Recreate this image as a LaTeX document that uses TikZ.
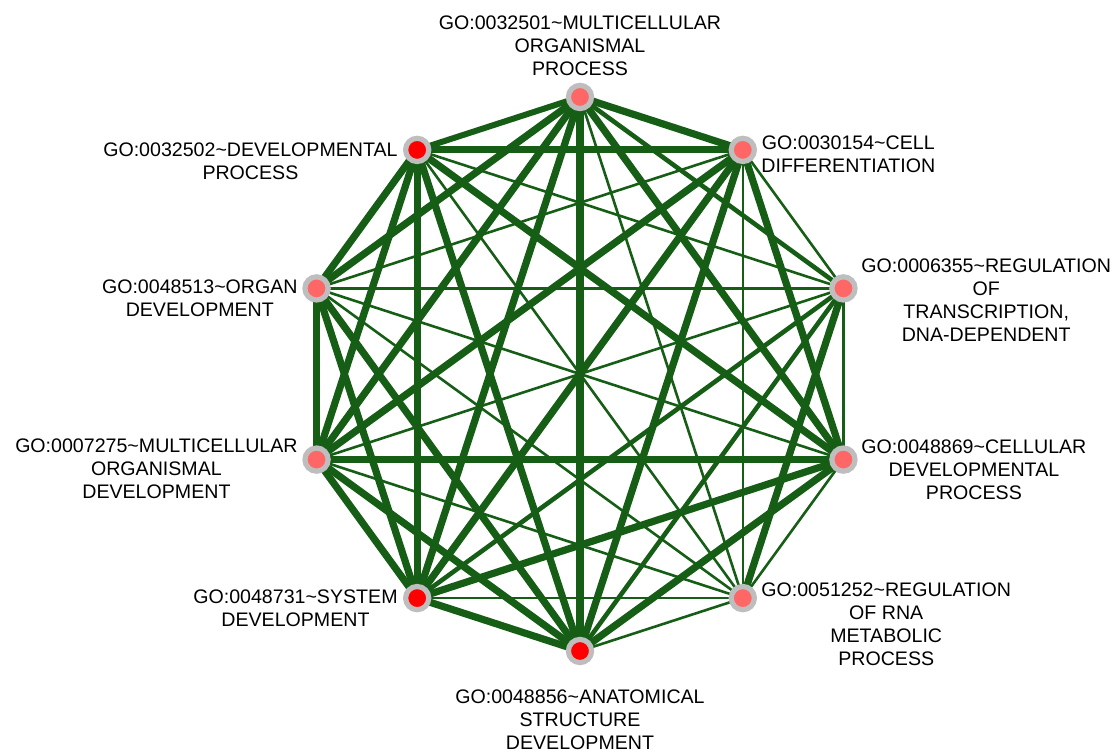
\documentclass[tikz,border=0pt]{standalone}
\usepackage{fontspec}
\setmainfont{Liberation Sans}
\usetikzlibrary{backgrounds}
\definecolor{edgegreen}{RGB}{22,94,22}
\definecolor{ringgray}{RGB}{190,190,190}
\definecolor{palered}{RGB}{255,102,102}
\definecolor{fullred}{RGB}{255,0,0}

\begin{document}
\begin{tikzpicture}[x=0.5pt,y=0.5pt,
    term/.style={circle, draw=ringgray, line width=2.6pt, minimum size=11.6pt, inner sep=0pt},
    lbl/.style={inner sep=0pt, align=center, font=\fontsize{9.8}{11.5}\selectfont},
    e1/.style={draw=edgegreen, line width=1.3pt},
    e2/.style={draw=edgegreen, line width=2.3pt},
    e3/.style={draw=edgegreen, line width=3.6pt}]
    \useasboundingbox (-580,-380) rectangle (538,374);

    % GO terms on a ring
    \node[term, fill=palered] (a) at (90:277) {};
    \node[term, fill=palered] (b) at (54:277) {};
    \node[term, fill=palered] (c) at (18:277) {};
    \node[term, fill=palered] (d) at (-18:277) {};
    \node[term, fill=palered] (e) at (-54:277) {};
    \node[term, fill=fullred] (f) at (-90:277) {};
    \node[term, fill=fullred] (g) at (-126:277) {};
    \node[term, fill=palered] (h) at (-162:277) {};
    \node[term, fill=palered] (i) at (162:277) {};
    \node[term, fill=fullred] (j) at (126:277) {};

    \node[lbl] (la) at (0,328) {GO:0032501\textasciitilde MULTICELLULAR\\ORGANISMAL\\PROCESS};
    \node[lbl, anchor=west] (lb) at (181,220) {GO:0030154\textasciitilde CELL\\DIFFERENTIATION};
    \node[lbl, anchor=west] (lc) at (281,74) {GO:0006355\textasciitilde REGULATION\\OF\\TRANSCRIPTION,\\DNA-DEPENDENT};
    \node[lbl, anchor=west] (ld) at (281,-96) {GO:0048869\textasciitilde CELLULAR\\DEVELOPMENTAL\\PROCESS};
    \node[lbl, anchor=west] (le) at (181,-250) {GO:0051252\textasciitilde REGULATION\\OF RNA\\METABOLIC\\PROCESS};
    \node[lbl] (lf) at (0,-346) {GO:0048856\textasciitilde ANATOMICAL\\STRUCTURE\\DEVELOPMENT};
    \node[lbl, anchor=east] (lg) at (-182,-234) {GO:0048731\textasciitilde SYSTEM\\DEVELOPMENT};
    \node[lbl, anchor=east] (lh) at (-282,-95) {GO:0007275\textasciitilde MULTICELLULAR\\ORGANISMAL\\DEVELOPMENT};
    \node[lbl, anchor=east] (li) at (-282,76) {GO:0048513\textasciitilde ORGAN\\DEVELOPMENT};
    \node[lbl, anchor=east] (lj) at (-182,213) {GO:0032502\textasciitilde DEVELOPMENTAL\\PROCESS};

    \begin{scope}[on background layer]
        % neighbours on the ring
        \draw[e3] (a.center) -- (b.center);
        \draw[e1] (b.center) -- (c.center);
        \draw[e1] (c.center) -- (d.center);
        \draw[e1] (d.center) -- (e.center);
        \draw[e1] (e.center) -- (f.center);
        \draw[e3] (f.center) -- (g.center);
        \draw[e3] (g.center) -- (h.center);
        \draw[e3] (h.center) -- (i.center);
        \draw[e3] (i.center) -- (j.center);
        \draw[e3, line width=3pt] (j.center) -- (a.center);
        % one apart
        \draw[e2] (a.center) -- (c.center);
        \draw[e3] (b.center) -- (d.center);
        \draw[e3] (c.center) -- (e.center);
        \draw[e3] (d.center) -- (f.center);
        \draw[e1] (e.center) -- (g.center);
        \draw[e3] (f.center) -- (h.center);
        \draw[e3] (g.center) -- (i.center);
        \draw[e3] (h.center) -- (j.center);
        \draw[e3] (i.center) -- (a.center);
        \draw[e3] (j.center) -- (b.center);
        % two apart
        \draw[e3] (a.center) -- (d.center);
        \draw[e1] (b.center) -- (e.center);
        \draw[e2] (c.center) -- (f.center);
        \draw[e3] (d.center) -- (g.center);
        \draw[e1] (e.center) -- (h.center);
        \draw[e3] (f.center) -- (i.center);
        \draw[e3] (g.center) -- (j.center);
        \draw[e3] (h.center) -- (a.center);
        \draw[e1] (i.center) -- (b.center);
        \draw[e1] (j.center) -- (c.center);
        % three apart
        \draw[e1] (a.center) -- (e.center);
        \draw[e3] (b.center) -- (f.center);
        \draw[e2] (c.center) -- (g.center);
        \draw[e3] (d.center) -- (h.center);
        \draw[e1] (e.center) -- (i.center);
        \draw[e3] (f.center) -- (j.center);
        \draw[e3] (g.center) -- (a.center);
        \draw[e3] (h.center) -- (b.center);
        \draw[e1] (i.center) -- (c.center);
        \draw[e3] (j.center) -- (d.center);
        % across
        \draw[e3] (a.center) -- (f.center);
        \draw[e3] (b.center) -- (g.center);
        \draw[e1] (c.center) -- (h.center);
        \draw[e1] (d.center) -- (i.center);
        \draw[e1] (e.center) -- (j.center);
    \end{scope}
\end{tikzpicture}
\end{document}
